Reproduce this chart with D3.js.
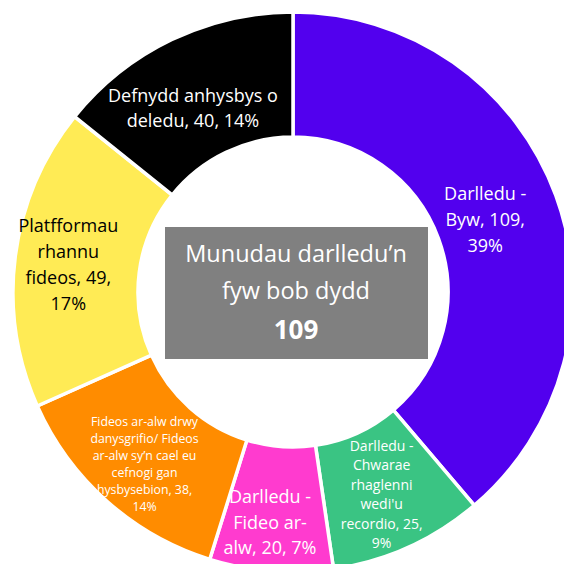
<!DOCTYPE html>
<html><head><meta charset="utf-8">
<script src="https://cdn.jsdelivr.net/npm/d3@7"></script>
<style>html,body{margin:0;padding:0;background:#fff;overflow:hidden}</style>
</head><body><svg id="c" width="564" height="564"></svg>
<script>
const categories = ["Darlledu - Byw", "Darlledu - Chwarae rhaglenni wedi'u recordio", "Darlledu - Fideo ar-alw", "Fideos ar-alw drwy danysgrifio/ Fideos ar-alw sy’n cael eu cefnogi gan hysbysebion", "Platfformau rhannu fideos", "Defnydd anhysbys o deledu"];
const values = [109, 25, 20, 38, 49, 40];
const percents = ["39%", "9%", "7%", "14%", "17%", "14%"];
const colors = ["#5200EE", "#3AC483", "#FF3BCF", "#FF8C00", "#FFEB55", "#000000"];
const labelColors = ["#fff", "#fff", "#fff", "#fff", "#000", "#fff"];
const labelLines = [
  ["Darlledu -", "Byw, 109,", "39%"],
  ["Darlledu -", "Chwarae", "rhaglenni", "wedi'u", "recordio, 25,", "9%"],
  ["Darlledu -", "Fideo ar-", "alw, 20, 7%"],
  ["Fideos ar-alw drwy", "danysgrifio/ Fideos", "ar-alw sy’n cael eu", "cefnogi gan", "hysbysebion, 38,", "14%"],
  ["Platfformau", "rhannu", "fideos, 49,", "17%"],
  ["Defnydd anhysbys o", "deledu, 40, 14%"]
];
const centerTitle = ["Munudau darlledu’n", "fyw bob dydd"];
const centerValue = "109";

const svg = d3.select("#c");
const cx = 293, cy = 292, rOuter = 280, rInner = 155;
const g = svg.append("g").attr("transform", `translate(${cx},${cy})`);
const pie = d3.pie().sort(null).value(d => d)(values);
const arc = d3.arc().innerRadius(rInner).outerRadius(rOuter);
g.selectAll("path").data(pie).enter().append("path")
  .attr("d", arc).attr("fill", (d, i) => colors[i])
  .attr("stroke", "#fff").attr("stroke-width", 3.5).attr("stroke-linejoin", "miter");

const fontSizes = [18, 14, 18, 12.3, 18, 18];
const lineH = [26, 19.5, 25.5, 17, 26, 25];
const offs = [[-12, 2], [-1, 4], [-6, 13], [-4, 9], [-9, 0], [-6, 12]];
const labelArc = d3.arc().innerRadius((rInner + rOuter) / 2).outerRadius((rInner + rOuter) / 2);
pie.forEach((d, i) => {
  const c = labelArc.centroid(d);
  const lines = labelLines[i];
  const n = lines.length;
  const t = g.append("text")
    .attr("text-anchor", "middle")
    .attr("font-family", "'Open Sans', sans-serif")
    .attr("font-size", fontSizes[i])
    .attr("fill", labelColors[i]);
  lines.forEach((ln, j) => {
    t.append("tspan").attr("x", c[0] + offs[i][0])
      .attr("y", c[1] + offs[i][1] + (j - (n - 1) / 2) * lineH[i])
      .attr("dominant-baseline", "central")
      .text(ln);
  });
});

// center box
svg.append("rect").attr("x", 165).attr("y", 227).attr("width", 263).attr("height", 132).attr("fill", "#808080");
const ct = svg.append("text").attr("text-anchor", "middle").attr("font-family", "'Open Sans', sans-serif").attr("fill", "#fff");
centerTitle.forEach((ln, j) => {
  ct.append("tspan").attr("x", 296).attr("y", 253 + j * 37).attr("dominant-baseline", "central").attr("font-size", 23.5).text(ln);
});
ct.append("tspan").attr("x", 296).attr("y", 329).attr("dominant-baseline", "central").attr("font-size", 26).attr("font-weight", "bold").text(centerValue);
</script></body></html>
